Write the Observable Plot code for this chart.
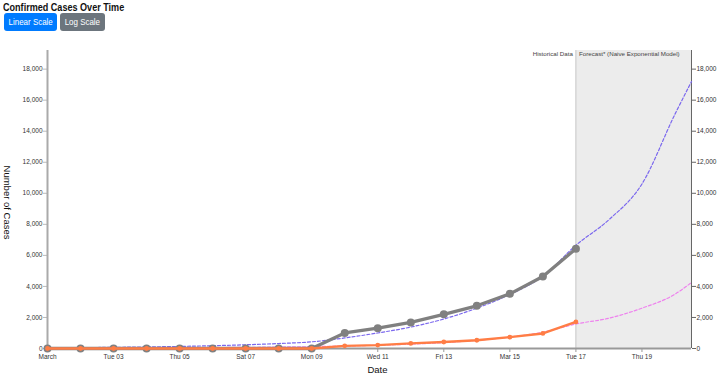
<!DOCTYPE html>
<html>
<head>
<meta charset="utf-8">
<script src="https://cdn.jsdelivr.net/npm/d3@7"></script>
<script src="https://cdn.jsdelivr.net/npm/@observablehq/plot@0.6"></script>
<style>
  body { margin: 0; font-family: "Liberation Sans", Arial, sans-serif; background: #fff; }
  #head { height: 36px; position: relative; }
  #title { position: absolute; left: 3px; top: 1px; font-weight: bold; font-size: 11.2px; color: #111; white-space: nowrap; transform: scaleX(0.81); transform-origin: left top; }
  .btn { position: absolute; top: 13px; height: 18px; line-height: 18px; font-size: 9.6px; color: #fff; border-radius: 3px; text-align: center; white-space: nowrap; }
  .btn span { display: inline-block; transform: scaleX(0.83); }
  #lin { left: 4px; width: 53px; background: #007bff; }
  #log { left: 60px; width: 45px; background: #6c757d; }
  svg { display: block; }
</style>
</head>
<body>
<div id="head">
  <div id="title">Confirmed Cases Over Time</div>
  <div class="btn" id="lin"><span>Linear Scale</span></div>
  <div class="btn" id="log"><span>Log Scale</span></div>
</div>
<div id="chart"></div>
<script>
// ---- data ----
const histDays = [1,2,3,4,5,6,7,8,9,10,11,12,13,14,15,16,17]; // March 2020
const usCases  = [0,0,0,0,0,0,0,0,0,1000,1310,1680,2200,2750,3520,4640,6430];
const nyCases  = [0,0,0,0,0,0,0,0,0,170,220,330,420,530,730,970,1710];

const fcDays   = [1,2,3,4,5,6,7,8,9,10,11,12,13,14,15,16,17,18,19,20,20.5];
const usFcst   = [40,55,75,100,135,180,240,320,430,680,1000,1380,1900,2600,3480,4650,6650,8300,10600,15100,17200];
const nyFcst   = [20,25,30,40,50,60,75,95,120,160,210,280,380,530,740,1050,1580,1950,2600,3500,4250];

const xTickDays   = [1,3,5,7,9,11,13,15,17,19];
const xTickLabels = ["March","Tue 03","Thu 05","Sat 07","Mon 09","Wed 11","Fri 13","Mar 15","Tue 17","Thu 19"];
const yTicks = [0,2000,4000,6000,8000,10000,12000,14000,16000,18000];

const forecastStartDay = 17;
const domainEndDay = 20.5;
const yMax = 19200;

// ---- build ----
const day = d => new Date(2020, 2, 1, 0, 0, 0, 0).getTime() + (d - 1) * 864e5;
const D = d => new Date(day(d));
const hist = histDays.map((d, i) => ({date: D(d), us: usCases[i], ny: nyCases[i]}));
const fc = fcDays.map((d, i) => ({date: D(d), us: usFcst[i], ny: nyFcst[i]}));
const xTicks = xTickDays.map(D);
const labelOf = new Map(xTicks.map((t, i) => [+t, xTickLabels[i]]));
const fmt = d3.format(",d");

const chart = Plot.plot({
  width: 720,
  height: 343,
  marginTop: 14,
  marginBottom: 31,
  marginLeft: 47,
  marginRight: 29,
  style: {fontFamily: "Liberation Sans, Arial, sans-serif", fontSize: "6.5px", color: "#333"},
  x: {type: "time", domain: [D(1), D(domainEndDay)]},
  y: {domain: [0, yMax]},
  marks: [
    Plot.rect([{x1: D(forecastStartDay), x2: D(domainEndDay)}], {x1: "x1", x2: "x2", y1: 0, y2: yMax, fill: "#ececec"}),
    Plot.ruleX([D(forecastStartDay)], {stroke: "#c8c8c8", strokeWidth: 1}),
    Plot.text(["Historical Data"], {x: D(forecastStartDay), frameAnchor: "top", lineAnchor: "middle", dy: 4, dx: -3, textAnchor: "end", fill: "#444", fontSize: 6.2}),
    Plot.text(["Forecast* (Naive Exponential Model)"], {x: D(forecastStartDay), frameAnchor: "top", lineAnchor: "middle", dy: 4, dx: 3, textAnchor: "start", fill: "#444", fontSize: 6.2}),
    Plot.axisX({ticks: xTicks, tickFormat: d => labelOf.get(+d), tickSize: 4, tickPadding: 2, label: null, stroke: "#999", fill: "#333"}),
    Plot.axisY({ticks: yTicks, tickFormat: fmt, tickSize: 4, tickPadding: 1, label: null, anchor: "left", stroke: "#bbb", fill: "#333"}),
    Plot.axisY({ticks: yTicks, tickFormat: fmt, tickSize: 4, tickPadding: 1, label: null, anchor: "right", stroke: "#666", fill: "#333"}),
    Plot.ruleX([D(1)], {stroke: "#aaa", strokeWidth: 2}),
    Plot.ruleX([D(domainEndDay)], {stroke: "#666", strokeWidth: 1}),
    Plot.ruleY([0], {stroke: "#999", strokeWidth: 2}),
    Plot.line(fc, {x: "date", y: "us", stroke: "mediumslateblue", strokeWidth: 1.2, strokeDasharray: "3,2", curve: "monotone-x"}),
    Plot.line(fc, {x: "date", y: "ny", stroke: "violet", strokeWidth: 1.2, strokeDasharray: "3,2", curve: "monotone-x"}),
    Plot.line(hist, {x: "date", y: "us", stroke: "#808080", strokeWidth: 3.3}),
    Plot.dot(hist, {x: "date", y: "us", r: 4, fill: "#808080"}),
    Plot.line(hist, {x: "date", y: "ny", stroke: "#ff7d45", strokeWidth: 2.4}),
    Plot.dot(hist, {x: "date", y: "ny", r: 2.4, fill: "#ff7d45"}),
    Plot.text(["Number of Cases"], {frameAnchor: "left", textAnchor: "middle", rotate: 90, dx: -40, dy: 3, fontSize: 9.5, fill: "#111"}),
    Plot.text(["Date"], {frameAnchor: "bottom", dy: 24, dx: 8, fontSize: 9.5, fill: "#111"})
  ]
});
document.getElementById("chart").appendChild(chart);
</script>
</body>
</html>
